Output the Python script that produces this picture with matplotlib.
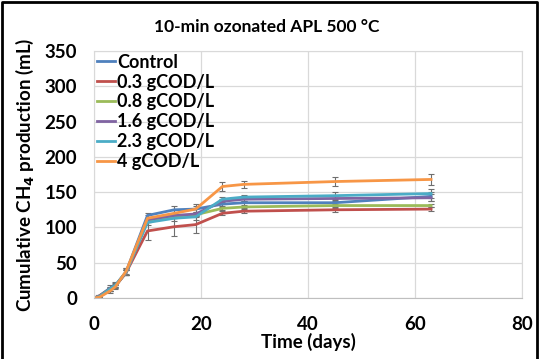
import numpy as np
import matplotlib
matplotlib.use("Agg")
import matplotlib.pyplot as plt
from matplotlib.lines import Line2D

plt.rcParams["font.family"] = ["Lato", "DejaVu Sans"]
plt.rcParams["font.weight"] = "bold"

days = [0, 1, 3, 4, 6, 10, 15, 19, 24, 28, 45, 63]
labels = ["Control", "0.3 gCOD/L", "0.8 gCOD/L", "1.6 gCOD/L", "2.3 gCOD/L", "4 gCOD/L"]
control = [0, 3, 14, 18, 37, 117, 125, 126, 133, 135, 135, 144]
cod_03 = [0, 3, 13, 17, 36, 95, 101, 104, 120, 123, 125, 126]
cod_08 = [0, 2, 12, 17, 36, 110, 116, 118, 127, 129, 131, 131]
cod_16 = [0, 2, 12, 17, 36, 111, 117, 119, 137, 140, 141, 142]
cod_23 = [0, 2, 13, 18, 37, 107, 113, 115, 140, 143, 145, 148]
cod_4 = [0, 1, 10, 16, 38, 113, 120, 126, 158, 161, 165, 168]

err_control = [0, 1, 4, 4, 5, 3, 6, 7, 3, 3, 4, 6]
err_03 = [0, 1, 3, 3, 4, 13, 13, 12, 3, 3, 3, 3]
err_08 = [0, 1, 2, 2, 3, 3, 3, 3, 2, 2, 2, 2]
err_16 = [0, 1, 2, 2, 3, 3, 3, 3, 3, 3, 3, 5]
err_23 = [0, 1, 3, 3, 4, 4, 4, 4, 3, 3, 5, 6]
err_4 = [0, 1, 3, 3, 4, 4, 4, 4, 6, 5, 7, 8]

series = [control, cod_03, cod_08, cod_16, cod_23, cod_4]
errors = [err_control, err_03, err_08, err_16, err_23, err_4]
colors = ["#4F81BD", "#C0504D", "#9BBB59", "#8064A2", "#4BACC6", "#F79646"]

fig = plt.figure(figsize=(5.39, 3.59), dpi=100)
ax = fig.add_axes([94 / 539, 1 - 298 / 359, 428 / 539, 247 / 359])

for vals, err, c, lab in zip(series, errors, colors, labels):
    ax.errorbar(days, vals, yerr=err, color=c, linewidth=2.0, label=lab,
                ecolor="#6f6f6f", elinewidth=0.8, capsize=2, capthick=0.8)

ax.set_xlim(0, 80)
ax.set_ylim(0, 350)
ax.set_xticks([0, 20, 40, 60, 80])
ax.set_yticks(np.arange(0, 351, 50))
ax.grid(color="#d9d9d9", linewidth=0.9)
ax.set_axisbelow(True)
ax.tick_params(length=0, labelsize=13.5)
ax.tick_params(axis="y", pad=12)
ax.tick_params(axis="x", pad=13)
for s in ax.spines.values():
    s.set_color("#d9d9d9")
ax.spines["bottom"].set_color("#bfbfbf")

ax.set_xlabel("Time (days)", fontsize=13.5, fontweight="bold", labelpad=0)
ax.set_ylabel("Cumulative CH$_4$ production (mL)", fontsize=13.5, fontweight="bold", labelpad=6)

handles, labs = ax.get_legend_handles_labels()
handles = [h[0] for h in handles]
ax.legend(handles, labs, loc="upper left", frameon=False,
          handlelength=1.0, handletextpad=0.15, labelspacing=0.16,
          borderaxespad=0.05, borderpad=0.1, prop={"weight": "bold", "size": 13})

fig.text(267 / 539, 1 - 27 / 359, "10-min ozonated APL 500 °C", ha="center", va="center",
         fontsize=12.5, fontweight="bold")

# dark frame round the chart (left, top, right)
fx = [0.004, 0.004, 0.996, 0.996]
fy = [0.0, 0.994, 0.994, 0.0]
fig.lines.append(Line2D(fx, fy, transform=fig.transFigure, color="black", linewidth=2))

fig.savefig("out.png", dpi=100)
